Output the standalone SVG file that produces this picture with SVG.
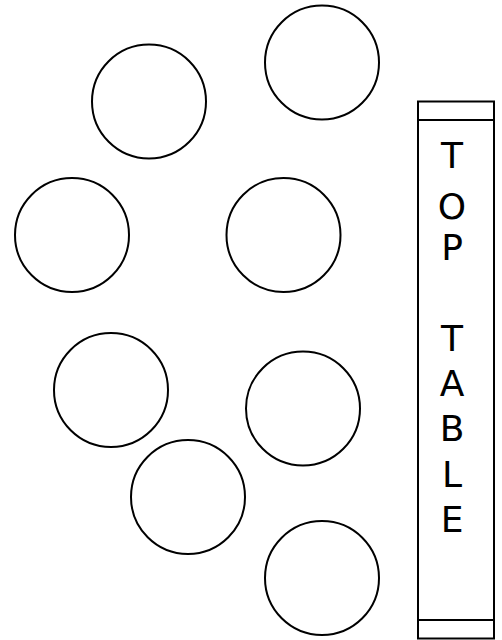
<svg xmlns="http://www.w3.org/2000/svg" width="502" height="640" viewBox="0 0 502 640">
<style>
.t{fill:#fff;stroke:#000;stroke-width:2}
.lbl{font-family:"DejaVu Sans",sans-serif;font-size:36px;fill:#000;text-anchor:middle}
</style>
<rect width="502" height="640" fill="#fff"/>
<g id="table1"><circle class="t" cx="149" cy="101.5" r="57"/></g>
<g id="table2"><circle class="t" cx="322" cy="62.5" r="57"/></g>
<g id="table3"><circle class="t" cx="72" cy="235" r="57"/></g>
<g id="table4"><circle class="t" cx="283.5" cy="235" r="57"/></g>
<g id="table5"><circle class="t" cx="111" cy="390" r="57"/></g>
<g id="table6"><circle class="t" cx="303" cy="408.5" r="57"/></g>
<g id="table7"><circle class="t" cx="188" cy="497" r="57"/></g>
<g id="table8"><circle class="t" cx="322" cy="578" r="57"/></g>
<g id="top-table">
<rect x="418" y="101.5" width="76" height="537" fill="#fff" stroke="#000" stroke-width="2"/>
<line x1="418" y1="120" x2="494" y2="120" stroke="#000" stroke-width="2"/>
<line x1="418" y1="620" x2="494" y2="620" stroke="#000" stroke-width="2"/>
<text class="lbl" x="452" y="168">T</text>
<text class="lbl" x="452" y="219">O</text>
<text class="lbl" x="452" y="260">P</text>
<text class="lbl" x="452" y="351">T</text>
<text class="lbl" x="452" y="396">A</text>
<text class="lbl" x="452" y="441">B</text>
<text class="lbl" x="452" y="487">L</text>
<text class="lbl" x="452" y="532">E</text>
</g>
<g id="connectors"/>
</svg>
